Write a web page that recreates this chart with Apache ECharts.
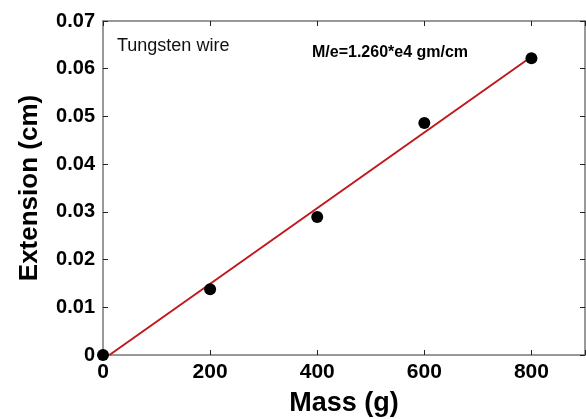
<!DOCTYPE html>
<html><head><meta charset="utf-8">
<script src="https://cdn.jsdelivr.net/npm/echarts@6/dist/echarts.min.js"></script>
<style>html,body{margin:0;padding:0;background:#fff}#c{width:586px;height:419px}</style>
</head><body><div id="c"></div>
<script>
var massData = [0, 200, 400, 600, 800];
var extensionData = [0, 0.0138, 0.0289, 0.0486, 0.0622];
var fitMass = [12, 800];
var fitExtension = [0, 0.0625];
var xTicks = [0, 200, 400, 600, 800];
var yTicks = [0, 0.01, 0.02, 0.03, 0.04, 0.05, 0.06, 0.07];
var title1 = 'Tungsten wire';
var title2 = 'M/e=1.260*e4 gm/cm';

var font = 'Liberation Sans, Arial, sans-serif';
var chart = echarts.init(document.getElementById('c'));
function pts(xs, ys){ return xs.map(function(x,i){return [x, ys[i]];}); }
var tickStyle = {show:true, inside:true, length:5, lineStyle:{color:'#222', width:1}};
var lineStyle = {show:true, onZero:false, lineStyle:{color:'#777', width:1.5}};
chart.setOption({
  animation:false,
  grid:{left:103, top:21, right:1, bottom:64, show:false, containLabel:false, outerBoundsMode:'none'},
  xAxis:[{
    type:'value', min:0, max:900, interval:200, position:'bottom',
    axisLine:lineStyle, axisTick:tickStyle, splitLine:{show:false},
    axisLabel:{color:'#000', fontFamily:font, fontWeight:'bold', fontSize:21, margin:7,
      formatter:function(v){ return xTicks.indexOf(v)>=0 ? String(v) : ''; }},
    name:'Mass (g)', nameLocation:'middle', nameGap:35,
    nameTextStyle:{color:'#000', fontFamily:font, fontWeight:'bold', fontSize:27}
  },{
    type:'value', min:0, max:900, interval:200, position:'top',
    axisLine:lineStyle, axisTick:tickStyle, splitLine:{show:false}, axisLabel:{show:false}
  }],
  yAxis:[{
    type:'value', min:0, max:0.07, interval:0.01, position:'left',
    axisLine:lineStyle, axisTick:tickStyle, splitLine:{show:false},
    axisLabel:{color:'#000', fontFamily:font, fontWeight:'bold', fontSize:20, margin:8,
      formatter:function(v){ var t = yTicks.find(function(y){return Math.abs(y-v)<1e-9;}); return t===undefined?'':(t===0?'0':t.toFixed(2)); }},
    name:'Extension (cm)', nameLocation:'middle', nameGap:60,
    nameTextStyle:{color:'#000', fontFamily:font, fontWeight:'bold', fontSize:26}
  },{
    type:'value', min:0, max:0.07, interval:0.01, position:'right',
    axisLine:lineStyle, axisTick:tickStyle, splitLine:{show:false}, axisLabel:{show:false}
  }],
  series:[{
    type:'line', data:pts(fitMass, fitExtension), showSymbol:false, symbol:'none',
    lineStyle:{color:'#c0181c', width:2}, z:2
  },{
    type:'scatter', data:pts(massData, extensionData), symbol:'circle', symbolSize:12,
    itemStyle:{color:'#000', opacity:1}, clip:false, z:3
  }],
  graphic:[
    {type:'text', left:117, top:37, style:{text:title1, font:'18px '+font, fill:'#111'}},
    {type:'text', left:312, top:45, style:{text:title2, font:'bold 16px '+font, fill:'#000'}}
  ]
});
</script></body></html>
